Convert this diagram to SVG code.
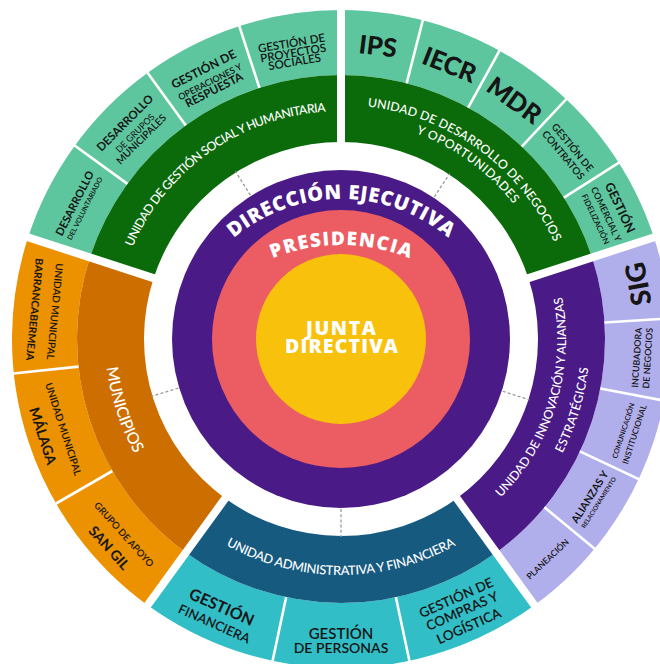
<svg xmlns="http://www.w3.org/2000/svg" width="660" height="664" viewBox="0 0 660 664">
<style>
.ri{fill:none;stroke-width:67;stroke-dasharray:289.65 3000}
.ro{fill:none;stroke-width:65;stroke-dasharray:372.59 3000}
.gap line{stroke:#fff;stroke-width:8}
.sub line{stroke:#fff;stroke-width:2.6}
.dash line{stroke:#9a9a9a;stroke-width:1.3;stroke-dasharray:3 2.2}
text{text-anchor:middle}
.u{fill:#fff;font-family:Lato,"Open Sans",sans-serif;font-weight:500}
.k{fill:#151515;font-family:Lato,"Open Sans",sans-serif;font-weight:400}
.m{font-weight:600}
.b{font-weight:700}
.bb{font-weight:900}
.c{fill:#fff;font-family:"Open Sans","Noto Sans",sans-serif;font-weight:800}
</style>
<defs>
<path id="pS" d="M120.77,279.99 A228,228 0 0 1 360.87,111.87"/>
<path id="pN1" d="M324.68,105.57 A234,234 0 0 1 568.05,282.39"/>
<path id="pN2" d="M325.72,120.53 A219,219 0 0 1 553.50,286.02"/>
<path id="pI1" d="M463.54,527.70 A225,225 0 0 0 548.11,251.09"/>
<path id="pI2" d="M476.62,547.83 A249,249 0 0 0 570.20,241.71"/>
<path id="pM" d="M110.16,289.93 A236,236 0 0 0 183.09,514.38"/>
<path id="pA" d="M189.30,519.79 A236,236 0 0 0 492.70,519.79"/>
<path id="pD" d="M222.91,247.91 A167,167 0 0 1 459.09,247.91"/>
<path id="pP" d="M250,269.38 A182,182 0 0 1 432,269.38"/>
</defs>
<rect width="660" height="664" fill="#fff"/>

<g id="centro">
<circle cx="341" cy="339" r="169" fill="#4a1a86"/>
<circle cx="341" cy="339" r="129" fill="#eb5d63"/>
<circle cx="341" cy="339" r="85" fill="#f8c20c"/>
<text class="c" font-size="20"><textPath href="#pD" startOffset="50%" textLength="233">DIRECCIÓN EJECUTIVA</textPath></text>
<text class="c" font-size="19"><textPath href="#pP" startOffset="50%" textLength="140">PRESIDENCIA</textPath></text>
<text class="c" font-size="19.5" x="341" y="335" textLength="70">JUNTA</text>
<text class="c" font-size="19.5" x="341.5" y="352.7" textLength="113">DIRECTIVA</text>
</g>

<g id="social">
<circle cx="341" cy="339" r="296.5" class="ro" stroke="#5dc69e" transform="rotate(198 341 339)"/>
<circle cx="341" cy="339" r="230.5" class="ri" stroke="#0b6b0b" transform="rotate(198 341 339)"/>
<text class="u" font-size="12.3"><textPath href="#pS" startOffset="50%" textLength="248">UNIDAD DE GESTIÓN SOCIAL Y HUMANITARIA</textPath></text>
<g transform="rotate(297 341 339)"><text class="k b" x="341" y="44" font-size="11">DESARROLLO</text><text class="k m" x="341" y="54" font-size="7">DEL VOLUNTARIADO</text></g>
<g transform="rotate(315 341 339)"><text class="k b" x="341" y="37.5" font-size="11.5">DESARROLLO</text><text class="k" x="341" y="51" font-size="9">DE GRUPOS</text><text class="k m" x="341" y="60" font-size="10">MUNICIPALES</text></g>
<g transform="rotate(333 341 339)"><text class="k b" x="341" y="40.5" font-size="12">GESTIÓN DE</text><text class="k m" x="341" y="53.5" font-size="9">OPERACIONES Y</text><text class="k b" x="341" y="63.5" font-size="11.5">RESPUESTA</text></g>
<g transform="rotate(350.5 341 339)"><text class="k m" x="341" y="43" font-size="11.5">GESTIÓN DE</text><text class="k m" x="341" y="53" font-size="11.5">PROYECTOS</text><text class="k m" x="341" y="62" font-size="11.5">SOCIALES</text></g>
</g>

<g id="negocios">
<circle cx="341" cy="339" r="296.5" class="ro" stroke="#5dc69e" transform="rotate(270 341 339)"/>
<circle cx="341" cy="339" r="230.5" class="ri" stroke="#0b6b0b" transform="rotate(270 341 339)"/>
<text class="u" font-size="12.3"><textPath href="#pN1" startOffset="50%" textLength="241">UNIDAD DE DESARROLLO DE NEGOCIOS</textPath></text>
<text class="u" font-size="12.3"><textPath href="#pN2" startOffset="50%" textLength="122">Y OPORTUNIDADES</textPath></text>
<text class="k bb" font-size="25.5" x="341" y="53" transform="rotate(7.2 341 339)">IPS</text>
<text class="k bb" font-size="25.5" x="341" y="53" transform="rotate(21.6 341 339)">IECR</text>
<text class="k bb" font-size="25.5" x="341" y="53" transform="rotate(36 341 339)">MDR</text>
<g transform="rotate(50.4 341 339)"><text class="k m" x="341" y="42" font-size="10">GESTIÓN DE</text><text class="k m" x="341" y="54" font-size="10">CONTRATOS</text></g>
<g transform="rotate(64.8 341 339)"><text class="k b" x="341" y="35" font-size="12.5">GESTIÓN</text><text class="k m" x="341" y="49" font-size="9">COMERCIAL Y</text><text class="k m" x="341" y="60.5" font-size="8">FIDELIZACIÓN</text></g>
</g>

<g id="innovacion">
<circle cx="341" cy="339" r="296.5" class="ro" stroke="#b1aeec" transform="rotate(342 341 339)"/>
<circle cx="341" cy="339" r="230.5" class="ri" stroke="#4a1a86" transform="rotate(342 341 339)"/>
<text class="u" font-size="12.3"><textPath href="#pI1" startOffset="50%" textLength="218">UNIDAD DE INNOVACIÓN Y ALIANZAS</textPath></text>
<text class="u" font-size="12.3"><textPath href="#pI2" startOffset="50%" textLength="90">ESTRATÉGICAS</textPath></text>
<text class="k bb" font-size="27.5" x="341" y="651" transform="rotate(259.5 341 339)">SIG</text>
<g transform="rotate(-86.4 341 339)"><text class="k m" x="341" y="638.5" font-size="9">INCUBADORA</text><text class="k m" x="341" y="649.5" font-size="9">DE NEGOCIOS</text></g>
<g transform="rotate(-72 341 339)"><text class="k m" x="341" y="638.5" font-size="7.2">COMUNICACIÓN</text><text class="k m" x="341" y="650.5" font-size="8.2">INSTITUCIONAL</text></g>
<g transform="rotate(-57.6 341 339)"><text class="k b" x="341" y="637.5" font-size="10.5">ALIANZAS Y</text><text class="k m" x="341" y="646.5" font-size="6.2">RELACIONAMIENTO</text></g>
<g transform="rotate(-43.2 341 339)"><text class="k m" x="341" y="644" font-size="8.6">PLANEACIÓN</text></g>
</g>

<g id="administrativa">
<circle cx="341" cy="339" r="296.5" class="ro" stroke="#31bec7" transform="rotate(54 341 339)"/>
<circle cx="341" cy="339" r="230.5" class="ri" stroke="#165a80" transform="rotate(54 341 339)"/>
<text class="u" font-size="12.8"><textPath href="#pA" startOffset="50%" textLength="240">UNIDAD ADMINISTRATIVA Y FINANCIERA</textPath></text>
<g transform="rotate(-24 341 339)"><text class="k m" x="341" y="627" font-size="13.5">GESTIÓN DE</text><text class="k m" x="341" y="641.5" font-size="13.5">COMPRAS Y</text><text class="k m" x="341" y="658" font-size="13.5">LOGÍSTICA</text></g>
<g><text class="k m" x="341" y="638.5" font-size="15">GESTIÓN</text><text class="k m" x="341" y="653" font-size="14">DE PERSONAS</text></g>
<g transform="rotate(24 341 339)"><text class="k b" x="341" y="638" font-size="16">GESTIÓN</text><text class="k m" x="341" y="655.3" font-size="13">FINANCIERA</text></g>
</g>

<g id="municipios">
<circle cx="341" cy="339" r="296.5" class="ro" stroke="#ec9100" transform="rotate(126 341 339)"/>
<circle cx="341" cy="339" r="230.5" class="ri" stroke="#cd6e00" transform="rotate(126 341 339)"/>
<text class="u" font-size="16"><textPath href="#pM" startOffset="50%" textLength="91">MUNICIPIOS</textPath></text>
<g transform="rotate(95.5 341 339)"><text class="k m" x="341" y="630" font-size="10">UNIDAD MUNICIPAL</text><text class="k b" x="341" y="650.5" font-size="10.3">BARRANCABERMEJA</text></g>
<g transform="rotate(72 341 339)"><text class="k m" x="341" y="634.5" font-size="10">UNIDAD MUNICIPAL</text><text class="k b" x="341" y="657.5" font-size="14">MÁLAGA</text></g>
<g transform="rotate(48 341 339)"><text class="k m" x="341" y="634.5" font-size="9.5">GRUPO DE APOYO</text><text class="k b" x="341" y="656" font-size="14">SAN GIL</text></g>
</g>

<g id="separadores" class="gap">
<line x1="526" y1="339" x2="680" y2="339" transform="rotate(270 341 339)"/>
<line x1="526" y1="339" x2="680" y2="339" transform="rotate(342 341 339)"/>
<line x1="526" y1="339" x2="680" y2="339" transform="rotate(54 341 339)"/>
<line x1="526" y1="339" x2="680" y2="339" transform="rotate(126 341 339)"/>
<line x1="526" y1="339" x2="680" y2="339" transform="rotate(198 341 339)"/>
</g>
<g id="subdivisiones" class="sub">
<line x1="605" y1="339" x2="680" y2="339" transform="rotate(216 341 339)"/>
<line x1="605" y1="339" x2="680" y2="339" transform="rotate(234 341 339)"/>
<line x1="605" y1="339" x2="680" y2="339" transform="rotate(252 341 339)"/>
<line x1="605" y1="339" x2="680" y2="339" transform="rotate(284.4 341 339)"/>
<line x1="605" y1="339" x2="680" y2="339" transform="rotate(298.8 341 339)"/>
<line x1="605" y1="339" x2="680" y2="339" transform="rotate(313.2 341 339)"/>
<line x1="605" y1="339" x2="680" y2="339" transform="rotate(327.6 341 339)"/>
<line x1="605" y1="339" x2="680" y2="339" transform="rotate(356.4 341 339)"/>
<line x1="605" y1="339" x2="680" y2="339" transform="rotate(10.8 341 339)"/>
<line x1="605" y1="339" x2="680" y2="339" transform="rotate(25.2 341 339)"/>
<line x1="605" y1="339" x2="680" y2="339" transform="rotate(39.6 341 339)"/>
<line x1="605" y1="339" x2="680" y2="339" transform="rotate(78 341 339)"/>
<line x1="605" y1="339" x2="680" y2="339" transform="rotate(102 341 339)"/>
<line x1="605" y1="339" x2="680" y2="339" transform="rotate(150 341 339)"/>
<line x1="605" y1="339" x2="680" y2="339" transform="rotate(174 341 339)"/>
</g>

<g id="conectores" class="dash">
<line x1="511" y1="339" x2="539" y2="339" transform="rotate(237.8 341 339)"/>
<line x1="511" y1="339" x2="539" y2="339" transform="rotate(303.3 341 339)"/>
<line x1="511" y1="339" x2="539" y2="339" transform="rotate(17.9 341 339)"/>
<line x1="511" y1="339" x2="539" y2="339" transform="rotate(90 341 339)"/>
<line x1="511" y1="339" x2="539" y2="339" transform="rotate(163.2 341 339)"/>
</g>
</svg>
